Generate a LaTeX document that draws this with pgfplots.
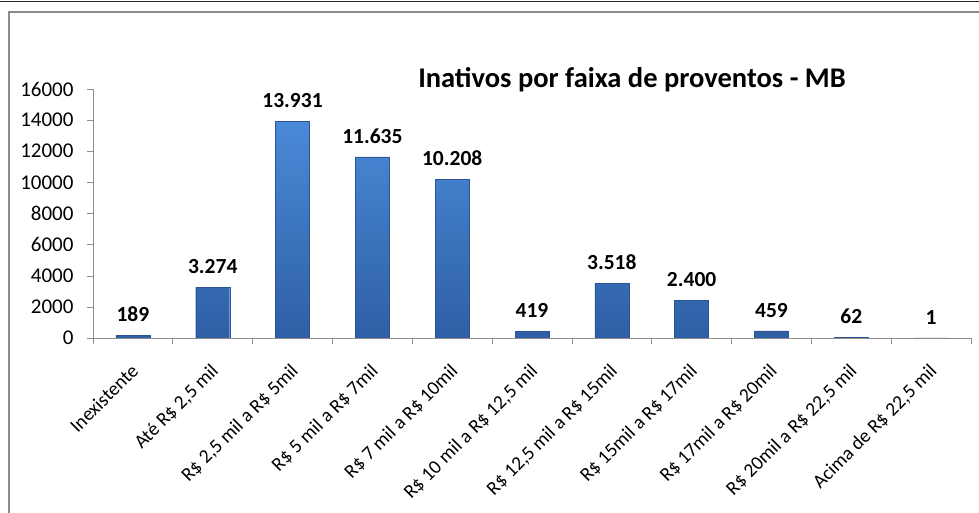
\documentclass[border=0pt]{standalone}
\usepackage{pgfplots}
\pgfplotsset{compat=1.18}
\usepackage{fontspec}
\setmainfont{Carlito}
\definecolor{bartop}{HTML}{4A8AD8}
\definecolor{barbot}{HTML}{2E5FA5}
\definecolor{baredge}{HTML}{2A5494}
\definecolor{axgray}{HTML}{8C8C8C}
\begin{document}
\begin{tikzpicture}
\useasboundingbox (0,0) rectangle (979pt,513pt);
\fill[white] (0,0) rectangle (979pt,513pt);
\draw[line width=1.6pt, black!85] (0,511.5pt) -- (979pt,511.5pt);
\draw[line width=1.6pt, axgray] (9pt,0) -- (9pt,501pt) -- (979pt,501pt);
\node[font=\fontsize{28.5}{33}\selectfont\bfseries] at (632pt,433pt) {Inativos por faixa de proventos - MB};
\begin{axis}[
  at={(93pt,175pt)}, anchor=south west,
  scale only axis, width=878pt, height=249pt,
  xmin=-0.5, xmax=10.5, ymin=0, ymax=16000,
  axis lines*=left,
  axis line style={axgray, line width=0.8pt},
  ytick={0,2000,...,16000},
  scaled y ticks=false,
  /pgf/number format/assume math mode=true,
  y tick label style={/pgf/number format/1000 sep={}, font=\fontsize{21}{25}\selectfont, xshift=-10pt},
  xtick={0,...,10},
  xticklabels={{Inexistente}, {Até R\$ 2,5 mil}, {R\$ 2,5 mil a R\$ 5mil}, {R\$ 5 mil a R\$ 7mil}, {R\$ 7 mil a R\$ 10mil}, {R\$ 10 mil a R\$ 12,5 mil}, {R\$ 12,5 mil a R\$ 15mil}, {R\$ 15mil a R\$ 17mil}, {R\$ 17mil a R\$ 20mil}, {R\$ 20mil a R\$ 22,5 mil}, {Acima de R\$ 22,5 mil}},
  x tick label style={xshift=-3pt, yshift=-17pt, rotate=45, anchor=north east, font=\fontsize{19.5}{23}\selectfont, inner sep=1pt},
  minor xtick={-0.5,0.5,...,10.5},
  tick align=outside,
  major tick length=6pt, minor tick length=6pt,
  tick style={axgray, line width=0.8pt},
  x tick style={draw=none},
  minor x tick style={draw=axgray, line width=0.8pt},
  every tick/.style={axgray},
]
\addplot[ybar, bar width=34pt, draw=baredge, top color=bartop, bottom color=barbot,
  point meta=explicit symbolic,
  nodes near coords,
  every node near coord/.append style={font=\fontsize{21.5}{25}\selectfont\bfseries, black, anchor=south, yshift=10pt}]
coordinates {
(0,189)[189]
(1,3274)[3.274]
(2,13931)[13.931]
(3,11635)[11.635]
(4,10208)[10.208]
(5,419)[419]
(6,3518)[3.518]
(7,2400)[2.400]
(8,459)[459]
(9,62)[62]
(10,1)[1]
};
\end{axis}
\end{tikzpicture}
\end{document}
